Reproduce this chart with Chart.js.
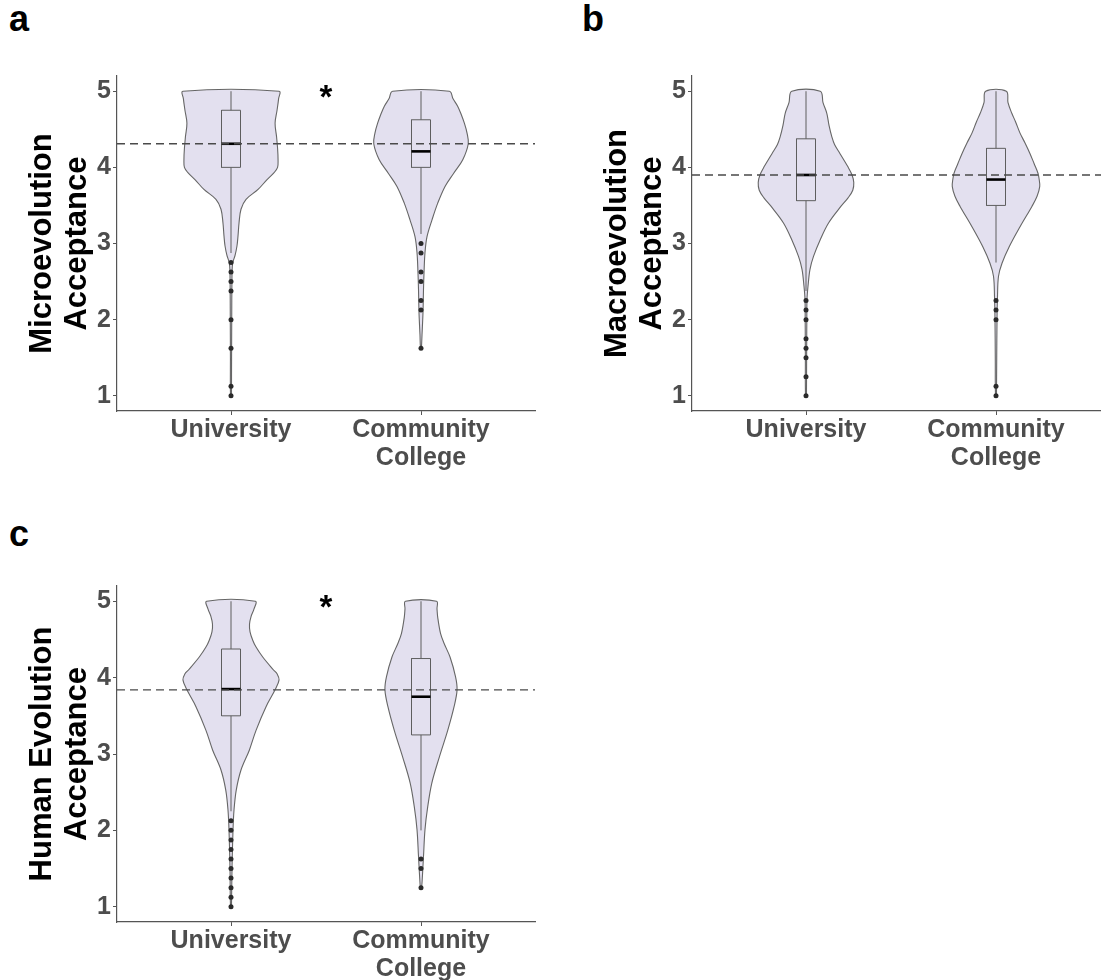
<!DOCTYPE html>
<html><head><meta charset="utf-8">
<script src="https://cdn.jsdelivr.net/npm/chart.js@4.4.1/dist/chart.umd.min.js"></script>
<style>
html,body{margin:0;padding:0;background:#fff;overflow:hidden;width:1101px;height:980px;position:relative;}
canvas.panel{position:absolute;}
.lbl{position:absolute;font:bold 36px "Liberation Sans",Arial,sans-serif;color:#000;line-height:36px;}
</style></head><body>
<div class="lbl" style="left:9px;top:1px">a</div>
<div class="lbl" style="left:582px;top:1px">b</div>
<div class="lbl" style="left:9px;top:516px">c</div>
<canvas id="ca" class="panel" style="left:0;top:0" width="539" height="480"></canvas>
<canvas id="cb" class="panel" style="left:575px;top:0" width="539" height="480"></canvas>
<canvas id="cc" class="panel" style="left:0;top:510px" width="539" height="470"></canvas>
<script>
// ---------------- DATA ----------------
const categories = ["University", ["Community", "College"]];
const categoryPositions = [1, 2];
const yTickValues = [1, 2, 3, 4, 5];

const microTitle = ["Microevolution", "Acceptance"];
const macroTitle = ["Macroevolution", "Acceptance"];
const humanTitle = ["Human Evolution", "Acceptance"];

// violin profiles: score levels and relative density (1 = widest)
const microUnivLevels = [1.0,1.5,2.0,2.5,2.7,2.77,2.84,2.97,3.1,3.27,3.45,3.58,3.71,3.84,3.93,4.0,4.1,4.25,4.4,4.58,4.75,4.9,5.0];
const microUnivDensity = [0.01,0.012,0.015,0.019,0.027,0.046,0.083,0.125,0.146,0.167,0.208,0.313,0.563,0.75,0.896,0.969,0.979,0.969,0.948,0.917,0.958,0.99,1.0];
const microCCLevels = [1.63,1.8,2.1,2.4,2.62,2.88,3.09,3.31,3.53,3.75,3.92,4.1,4.31,4.45,4.58,4.7,4.8,4.9,5.0];
const microCCDensity = [0.01,0.021,0.042,0.052,0.063,0.083,0.125,0.229,0.348,0.5,0.677,0.869,0.983,0.958,0.902,0.833,0.765,0.667,0.59];

const macroUnivLevels = [1.0,1.5,2.0,2.27,2.44,2.66,2.83,3.05,3.27,3.49,3.6,3.7,3.8,3.9,4.01,4.18,4.3,4.4,4.55,4.71,4.85,5.0];
const macroUnivDensity = [0.01,0.013,0.017,0.021,0.042,0.083,0.156,0.296,0.469,0.729,0.875,0.973,0.994,0.958,0.869,0.708,0.594,0.538,0.479,0.433,0.354,0.296];
const macroCCLevels = [1.0,1.5,2.0,2.3,2.57,2.74,2.96,3.22,3.49,3.62,3.75,3.85,3.92,4.05,4.18,4.32,4.45,4.6,4.71,4.85,5.0];
const macroCCDensity = [0.01,0.015,0.021,0.031,0.052,0.125,0.277,0.5,0.75,0.854,0.91,0.896,0.875,0.792,0.708,0.604,0.5,0.406,0.329,0.25,0.215];

const humanUnivLevels = [1.0,1.5,2.01,2.27,2.53,2.79,3.05,3.31,3.62,3.84,3.97,4.05,4.1,4.27,4.4,4.49,4.6,4.7,4.8,4.9,5.0];
const humanUnivDensity = [0.01,0.021,0.042,0.063,0.11,0.208,0.381,0.521,0.729,0.917,1.0,0.958,0.885,0.66,0.521,0.452,0.396,0.385,0.417,0.479,0.506];
const humanCCLevels = [1.25,1.31,1.66,2.01,2.31,2.62,2.96,3.31,3.62,3.84,4.01,4.27,4.45,4.58,4.79,4.9,5.0];
const humanCCDensity = [0.01,0.021,0.052,0.083,0.14,0.225,0.381,0.556,0.688,0.75,0.719,0.604,0.479,0.406,0.348,0.333,0.323];

// box plot statistics [University, Community College]
const microQ1 = [4.0, 4.0], microMedian = [4.31, 4.21], microQ3 = [4.75, 4.625];
const microWhiskerLow = [2.875, 3.125], microWhiskerHigh = [5, 5];
const microOutliersUniv = [2.75, 2.625, 2.5, 2.375, 2.0, 1.625, 1.125, 1.0];
const microOutliersCC = [3.0, 2.875, 2.625, 2.5, 2.25, 2.125, 1.625];
const microMean = 4.31;

const macroQ1 = [3.5625, 3.5], macroMedian = [3.9, 3.84], macroQ3 = [4.375, 4.25];
const macroWhiskerLow = [2.375, 2.75], macroWhiskerHigh = [5, 5];
const macroOutliersUniv = [2.25, 2.125, 2.0, 1.75, 1.625, 1.5, 1.25, 1.0];
const macroOutliersCC = [2.25, 2.125, 2.0, 1.125, 1.0];
const macroMean = 3.90;

const humanQ1 = [3.5, 3.25], humanMedian = [3.85, 3.75], humanQ3 = [4.375, 4.25];
const humanWhiskerLow = [2.25, 2.0], humanWhiskerHigh = [5, 5];
const humanOutliersUniv = [2.125, 2.0, 1.875, 1.75, 1.625, 1.5, 1.375, 1.25, 1.125, 1.0];
const humanOutliersCC = [1.625, 1.5, 1.25];
const humanMean = 3.84;

// significance marks (x, y in data units)
const microStar = {x: 1.5, y: 5.0};
const humanStar = {x: 1.5, y: 5.0};

// ---------------- STYLE ----------------
const FONT = '"Liberation Sans", Arial, Helvetica, sans-serif';
const VIOLIN_HALF = 0.253;   // category units for density 1
const BOX_HALF = 0.05;
const VIOLIN_FILL = '#E3E0EF';
const VIOLIN_LINE = '#666666';
const AXIS_COLOR = '#555555';
const TEXT_GRAY = '#4d4d4d';

const starPlugin = {
  id: 'star',
  afterDatasetsDraw(chart, args, opts) {
    if (!opts || !opts.pos) return;
    const ctx = chart.ctx;
    ctx.save();
    ctx.font = 'bold 33px ' + FONT;
    ctx.fillStyle = '#000';
    ctx.textAlign = 'center';
    ctx.textBaseline = 'alphabetic';
    ctx.fillText('*', chart.scales.x.getPixelForValue(opts.pos.x), chart.scales.y.getPixelForValue(opts.pos.y) + 17);
    ctx.restore();
  }
};

function violinPath(center, levels, dens) {
  const right = levels.map((y, i) => ({x: center + dens[i] * VIOLIN_HALF, y}));
  const left = levels.map((y, i) => ({x: center - dens[i] * VIOLIN_HALF, y})).reverse();
  return right.concat(left, [right[0]]);
}

function buildDatasets(p) {
  const ds = [];
  ds.push({data: [{x: 0.4, y: p.mean}, {x: 2.6, y: p.mean}], borderColor: '#4a4a4a', borderWidth: 1.3,
    borderDash: [8, 5], pointRadius: 0, fill: false, order: 0});
  categoryPositions.forEach((c, i) => {
    const outs = i === 0 ? p.outU : p.outC;
    ds.push({data: outs.map(v => ({x: c, y: v})), showLine: false, pointRadius: 2.5,
      pointBackgroundColor: '#2a2a2a', pointBorderWidth: 0, order: 1});
    ds.push({data: [{x: c - BOX_HALF, y: p.med[i]}, {x: c + BOX_HALF, y: p.med[i]}], borderColor: '#000',
      borderWidth: 2.6, pointRadius: 0, fill: false, order: 2});
    ds.push({data: [{x: c - BOX_HALF, y: p.q1[i]}, {x: c + BOX_HALF, y: p.q1[i]}, {x: c + BOX_HALF, y: p.q3[i]},
      {x: c - BOX_HALF, y: p.q3[i]}, {x: c - BOX_HALF, y: p.q1[i]}], borderColor: '#5e5e5e', borderWidth: 1,
      pointRadius: 0, fill: false, order: 3});
    ds.push({data: [{x: c, y: p.wl[i]}, {x: c, y: p.q1[i]}], borderColor: '#5e5e5e', borderWidth: 1, pointRadius: 0, fill: false, order: 3});
    ds.push({data: [{x: c, y: p.q3[i]}, {x: c, y: p.wh[i]}], borderColor: '#5e5e5e', borderWidth: 1, pointRadius: 0, fill: false, order: 3});
    const lv = i === 0 ? p.lvU : p.lvC, dn = i === 0 ? p.dnU : p.dnC;
    ds.push({data: violinPath(c, lv, dn), borderColor: VIOLIN_LINE, borderWidth: 1.1, backgroundColor: VIOLIN_FILL,
      fill: 'shape', tension: 0.35, pointRadius: 0, order: 5});
  });
  return ds;
}

function makeChart(id, p, plotBottomSpace) {
  new Chart(document.getElementById(id), {
    type: 'line',
    data: {datasets: buildDatasets(p)},
    plugins: [starPlugin],
    options: {
      responsive: false, animation: false, devicePixelRatio: 1,
      layout: {padding: {top: 76, left: 0, right: 0, bottom: 0}},
      plugins: {legend: {display: false}, tooltip: {enabled: false}, star: {pos: p.star}},
      scales: {
        x: {
          type: 'linear', min: 0.4, max: 2.6,
          afterBuildTicks(s) { s.ticks = categoryPositions.map(v => ({value: v})); },
          afterFit(s) { s.height = plotBottomSpace; },
          ticks: {callback: v => categories[Math.round(v) - 1], autoSkip: false, maxRotation: 0,
            font: {family: FONT, size: 25, weight: 'bold', lineHeight: 1.12}, color: TEXT_GRAY, padding: 1},
          grid: {drawOnChartArea: false, drawTicks: true, tickLength: 4, color: AXIS_COLOR, lineWidth: 1},
          border: {display: true, color: AXIS_COLOR, width: 1.2}
        },
        y: {
          type: 'linear', min: 0.8, max: 5.2,
          afterBuildTicks(s) { s.ticks = yTickValues.map(v => ({value: v})); },
          afterFit(s) { s.width = 117; },
          ticks: {font: {family: FONT, size: 25, weight: 'bold'}, color: TEXT_GRAY, padding: 2},
          grid: {drawOnChartArea: false, drawTicks: true, tickLength: 4, color: AXIS_COLOR, lineWidth: 1},
          border: {display: true, color: AXIS_COLOR, width: 1.2},
          title: {display: true, text: p.title, color: '#000',
            font: {family: FONT, size: 31, weight: 'bold', lineHeight: 1.13}, padding: {top: 25, bottom: 0}}
        }
      }
    }
  });
}

makeChart('ca', {title: microTitle, mean: microMean, q1: microQ1, med: microMedian, q3: microQ3,
  wl: microWhiskerLow, wh: microWhiskerHigh, outU: microOutliersUniv, outC: microOutliersCC,
  lvU: microUnivLevels, dnU: microUnivDensity, lvC: microCCLevels, dnC: microCCDensity, star: microStar}, 69);
makeChart('cb', {title: macroTitle, mean: macroMean, q1: macroQ1, med: macroMedian, q3: macroQ3,
  wl: macroWhiskerLow, wh: macroWhiskerHigh, outU: macroOutliersUniv, outC: macroOutliersCC,
  lvU: macroUnivLevels, dnU: macroUnivDensity, lvC: macroCCLevels, dnC: macroCCDensity, star: null}, 69);
makeChart('cc', {title: humanTitle, mean: humanMean, q1: humanQ1, med: humanMedian, q3: humanQ3,
  wl: humanWhiskerLow, wh: humanWhiskerHigh, outU: humanOutliersUniv, outC: humanOutliersCC,
  lvU: humanUnivLevels, dnU: humanUnivDensity, lvC: humanCCLevels, dnC: humanCCDensity, star: humanStar}, 58);
</script>
</body></html>
